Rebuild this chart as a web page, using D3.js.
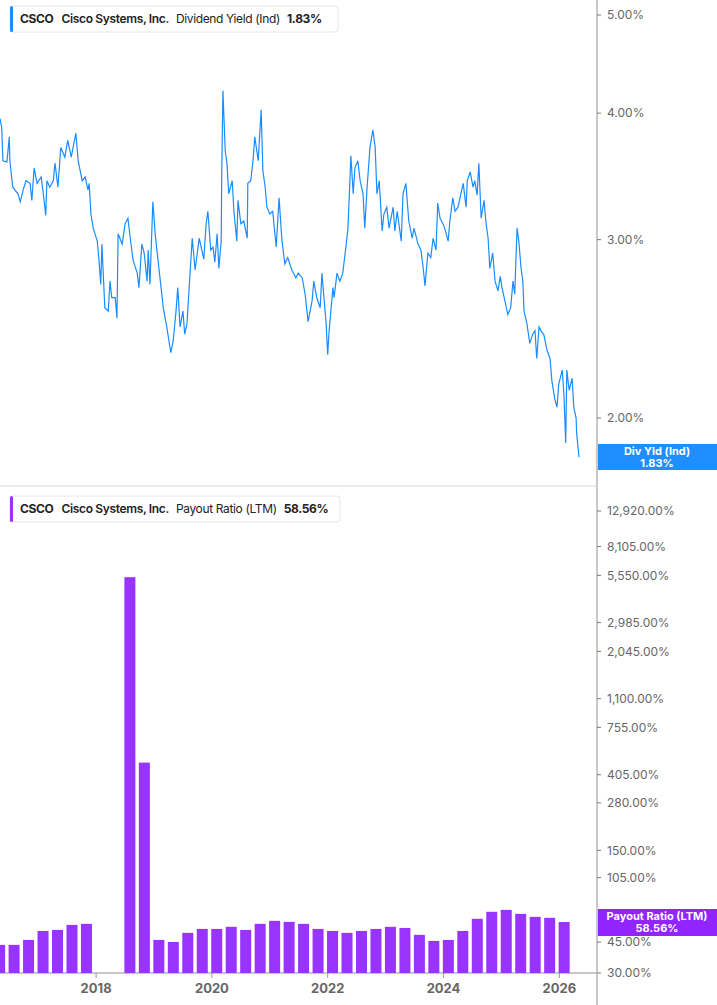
<!DOCTYPE html>
<html>
<head>
<meta charset="utf-8">
<script src="https://cdn.jsdelivr.net/npm/d3@7"></script>
<style>
  body { margin: 0; background: #fff; font-family: Inter, "Open Sans", sans-serif; }
</style>
</head>
<body>
<div id="chart"></div>
<script>
// Dividend yield (Ind), decimal year vs %
const divDates = [2016.34,2016.37,2016.39,2016.46,2016.50,2016.51,2016.56,2016.65,2016.69,2016.74,2016.79,2016.86,2016.89,2016.93,2016.98,
  2017.05,2017.08,2017.13,2017.15,2017.20,2017.26,2017.29,2017.34,2017.39,2017.46,2017.51,2017.57,2017.65,2017.69,2017.76,2017.81,2017.86,2017.88,2017.91,2017.95,
  2018.02,2018.05,2018.08,2018.10,2018.15,2018.21,2018.24,2018.27,2018.33,2018.36,2018.38,2018.45,2018.50,2018.55,2018.59,2018.64,2018.71,2018.74,2018.79,2018.83,2018.88,2018.90,2018.93,2018.98,
  2019.02,2019.07,2019.16,2019.22,2019.29,2019.33,2019.38,2019.41,2019.45,2019.50,2019.53,2019.57,2019.60,2019.66,2019.71,2019.78,2019.86,2019.90,2019.93,2019.98,
  2020.02,2020.05,2020.09,2020.12,2020.16,2020.17,2020.19,2020.23,2020.26,2020.29,2020.35,2020.38,2020.43,2020.45,2020.50,2020.55,2020.61,2020.62,2020.67,2020.71,2020.74,2020.80,2020.85,2020.88,2020.92,2020.95,
  2021.00,2021.05,2021.11,2021.16,2021.21,2021.26,2021.31,2021.38,2021.45,2021.49,2021.56,2021.61,2021.66,2021.73,2021.76,2021.81,2021.87,2021.90,2021.94,2021.97,
  2022.00,2022.02,2022.09,2022.11,2022.16,2022.21,2022.26,2022.32,2022.35,2022.40,2022.44,2022.47,2022.52,2022.56,2022.61,2022.64,2022.68,2022.73,2022.78,2022.82,2022.85,2022.89,2022.94,2022.97,
  2023.02,2023.06,2023.13,2023.16,2023.20,2023.27,2023.30,2023.35,2023.40,2023.46,2023.49,2023.56,2023.61,2023.65,2023.68,2023.73,2023.78,2023.82,2023.87,2023.90,2023.94,2023.99,
  2024.02,2024.08,2024.11,2024.16,2024.20,2024.25,2024.30,2024.34,2024.39,2024.41,2024.46,2024.51,2024.54,2024.58,2024.61,2024.65,2024.70,2024.73,2024.77,2024.80,2024.85,2024.89,2024.94,2024.98,
  2025.01,2025.06,2025.11,2025.16,2025.20,2025.23,2025.27,2025.30,2025.34,2025.37,2025.39,2025.44,2025.49,2025.54,2025.58,2025.61,2025.65,2025.70,2025.73,2025.79,2025.84,2025.87,2025.92,2025.96,2025.99,
  2026.05,2026.08,2026.11,2026.13,2026.17,2026.22,2026.25,2026.29,2026.30,2026.34];
const divYield = [3.95,3.87,3.59,3.58,3.79,3.59,3.38,3.33,3.27,3.36,3.43,3.41,3.28,3.53,3.41,
  3.46,3.36,3.17,3.43,3.38,3.43,3.57,3.38,3.70,3.62,3.76,3.62,3.82,3.59,3.43,3.46,3.36,3.41,3.18,3.08,
  2.99,2.86,2.71,2.97,2.57,2.55,2.73,2.63,2.63,2.51,3.04,2.97,3.11,3.15,3.01,2.86,2.78,2.69,2.97,2.91,2.73,2.93,2.71,3.27,
  3.04,2.86,2.57,2.46,2.32,2.38,2.55,2.69,2.46,2.55,2.42,2.48,2.65,3.01,2.80,3.01,2.87,3.11,3.20,2.93,
  2.95,2.85,3.04,2.81,2.99,3.50,4.21,3.67,3.57,3.33,3.43,3.20,2.99,3.28,3.11,3.13,3.01,3.41,3.43,3.59,3.79,3.59,4.03,3.51,3.38,3.23,
  3.18,3.20,2.95,3.30,2.99,2.84,2.88,2.80,2.75,2.78,2.75,2.65,2.49,2.61,2.73,2.63,2.57,2.78,2.61,2.49,
  2.31,2.42,2.69,2.63,2.78,2.73,2.78,2.97,3.08,3.63,3.33,3.53,3.59,3.43,3.33,3.08,3.38,3.70,3.85,3.70,3.33,3.43,3.06,3.18,
  3.23,3.08,3.23,3.06,3.20,2.99,3.33,3.41,3.13,3.01,3.08,2.97,2.93,2.81,2.70,2.91,2.88,3.01,2.93,3.26,3.15,3.11,
  3.08,2.99,3.13,3.30,3.20,3.23,3.33,3.41,3.23,3.43,3.50,3.38,3.43,3.32,3.57,3.15,3.28,3.13,3.01,2.81,2.91,2.73,2.67,2.76,
  2.69,2.61,2.53,2.57,2.73,2.65,3.08,2.99,2.81,2.73,2.55,2.48,2.37,2.42,2.44,2.29,2.46,2.43,2.42,2.33,2.29,2.18,2.09,2.05,2.16,
  2.23,2.11,1.89,2.23,2.13,2.19,2.05,2.00,1.93,1.83];

// Payout ratio (LTM), quarterly
const payDates = ["2016-05","2016-08","2016-11","2017-02","2017-05","2017-08","2017-11",
  "2018-08","2018-11","2019-02","2019-05","2019-08","2019-11","2020-02","2020-05","2020-08","2020-11",
  "2021-02","2021-05","2021-08","2021-11","2022-02","2022-05","2022-08","2022-11","2023-02","2023-05",
  "2023-08","2023-11","2024-02","2024-05","2024-08","2024-11","2025-02","2025-05","2025-08","2025-11","2026-02"];
const payValues = [43.4,43.4,46.3,52.1,52.8,56.4,57.2,
  5420,475,46.3,45.1,50.8,53.5,53.5,55.0,52.8,57.2,
  59.5,58.7,57.2,53.5,52.1,50.8,52.1,53.5,55.0,54.2,
  49.5,45.7,46.3,52.1,61.1,67.0,68.7,65.2,62.7,61.9,58.56];

const yieldTicks = [5, 4, 3, 2];
const payoutTicks = [12920, 8105, 5550, 2985, 2045, 1100, 755, 405, 280, 150, 105, 45, 30];
const yearTicks = [2018, 2020, 2022, 2024, 2026];

const W = 717, H = 1005, axisX = 597;
const blue = "#1a8cff", purple = "#9933ff";

const svg = d3.select("#chart").append("svg").attr("width", W).attr("height", H);

const x = d3.scaleLinear().domain([2016.34, 2016.34 + axisX / 57.9]).range([0, axisX]);
const yTop = d3.scaleLog().domain([2, 5]).range([418, 15]);
const yBot = d3.scaleLog().domain([30, 12920]).range([973, 511]);

const toYear = s => +s.slice(0, 4) + (+s.slice(5, 7) - 1) / 12;

// frame lines
svg.append("line").attr("x1", axisX).attr("x2", axisX).attr("y1", 0).attr("y2", H)
  .attr("stroke", "#b5b5b5").attr("stroke-width", 1.5);
svg.append("line").attr("x1", 0).attr("x2", axisX).attr("y1", 486).attr("y2", 486)
  .attr("stroke", "#d6d6d6");
svg.append("line").attr("x1", 0).attr("x2", axisX).attr("y1", 973).attr("y2", 973)
  .attr("stroke", "#b5b5b5").attr("stroke-width", 1.5);

// top line
const line = d3.line().x(d => x(d[0])).y(d => yTop(d[1]));
svg.append("path").datum(d3.zip(divDates, divYield))
  .attr("fill", "none").attr("stroke", blue).attr("stroke-width", 1.2)
  .attr("d", line);

// bars
const barW = 11;
svg.append("g").selectAll("rect").data(d3.zip(payDates, payValues)).join("rect")
  .attr("x", d => x(toYear(d[0])) - barW / 2)
  .attr("width", barW)
  .attr("y", d => yBot(d[1]))
  .attr("height", d => 973 - yBot(d[1]))
  .attr("fill", purple);

// right axes
const pct = d3.format(",.2f");
function rightAxis(scale, ticks) {
  const g = svg.append("g").attr("transform", `translate(${axisX},0)`);
  const t = g.selectAll("g").data(ticks).join("g").attr("transform", d => `translate(0,${scale(d)})`);
  t.append("line").attr("x2", 4).attr("stroke", "#777");
  t.append("text").attr("x", 10).attr("dy", "0.35em").attr("font-size", 12).attr("fill", "#666")
    .text(d => pct(d) + "%");
}
rightAxis(yTop, yieldTicks);
rightAxis(yBot, payoutTicks);

// bottom axis
const xa = svg.append("g").attr("transform", "translate(0,973)");
const xt = xa.selectAll("g").data(yearTicks).join("g").attr("transform", d => `translate(${x(d)},0)`);
xt.append("line").attr("y2", 5).attr("stroke", "#999");
xt.append("text").attr("y", 20).attr("text-anchor", "middle").attr("font-size", 13)
  .attr("font-weight", "bold").attr("fill", "#666").text(d => d);

// value labels on the axis
function valueLabel(y0, h, color, l1, l2) {
  svg.append("rect").attr("x", axisX + 1).attr("y", y0).attr("width", W - axisX).attr("height", h).attr("fill", color);
  svg.append("text").attr("x", 657).attr("y", y0 + 11).attr("text-anchor", "middle").attr("font-size", 11)
    .attr("font-weight", "bold").attr("fill", "#fff").text(l1);
  svg.append("text").attr("x", 657).attr("y", y0 + 23).attr("text-anchor", "middle").attr("font-size", 11)
    .attr("font-weight", "bold").attr("fill", "#fff").text(l2);
}
valueLabel(444, 26, "#1f8fff", "Div Yld (Ind)", "1.83%");
valueLabel(909, 27, "#9124ff", "Payout Ratio (LTM)", "58.56%");

// legends
function legend(y0, w, color, metric, val) {
  const g = svg.append("g").attr("transform", `translate(10,${y0})`);
  g.append("rect").attr("width", w).attr("height", 26).attr("rx", 3)
    .attr("fill", "#fff").attr("stroke", "#e6e6e6");
  g.append("rect").attr("width", 3).attr("height", 26).attr("rx", 1.5).attr("fill", color);
  const t = g.append("text").attr("x", 10).attr("y", 17).attr("font-size", 12).attr("fill", "#222")
    .attr("letter-spacing", -0.35);
  t.append("tspan").attr("font-weight", "bold").text("CSCO");
  t.append("tspan").attr("dx", 8).attr("font-weight", 600).text("Cisco Systems, Inc.");
  t.append("tspan").attr("dx", 7).text(metric);
  t.append("tspan").attr("dx", 7).attr("font-weight", "bold").text(val);
}
legend(6, 328, blue, "Dividend Yield (Ind)", "1.83%");
legend(496, 330, purple, "Payout Ratio (LTM)", "58.56%");
</script>
</body>
</html>
